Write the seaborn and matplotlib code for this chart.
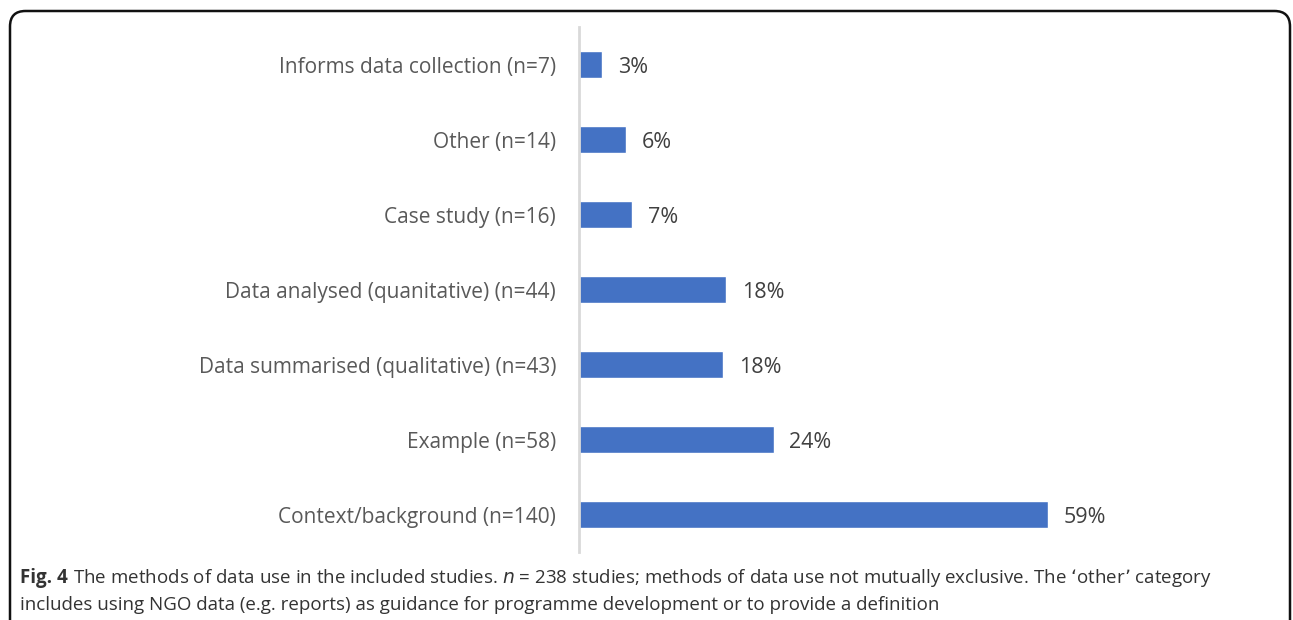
import pandas as pd
import matplotlib.pyplot as plt
import seaborn as sns
from matplotlib.patches import FancyBboxPatch

# categories, top to bottom as shown in the chart
categories = [
    "Informs data collection (n=7)",
    "Other (n=14)",
    "Case study (n=16)",
    "Data analysed (quanitative) (n=44)",
    "Data summarised (qualitative) (n=43)",
    "Example (n=58)",
    "Context/background (n=140)",
]
percent = [2.9, 5.9, 6.7, 18.5, 18.1, 24.4, 58.8]
value_labels = ["3%", "6%", "7%", "18%", "18%", "24%", "59%"]

caption_bold = "Fig. 4"
caption_line1 = ("The methods of data use in the included studies. $\\it{n}$ = 238 studies; "
                 "methods of data use not mutually exclusive. The \u2018other\u2019 category")
caption_line2 = ("includes using NGO data (e.g. reports) as guidance for programme development "
                 "or to provide a definition")

df = pd.DataFrame({"method": categories, "pct": percent})

sns.set_style("white")
plt.rcParams["font.family"] = ["Open Sans", "DejaVu Sans"]

fig = plt.figure(figsize=(12.93, 6.2), dpi=100)
ax = fig.add_axes([579 / 1293, 1 - 552 / 620, 558 / 1293, 525 / 620])

sns.barplot(data=df, y="method", x="pct", order=categories, color="#4472C4",
            width=0.35, saturation=1, ax=ax)

ax.set_ylim(6.5, -0.5)
ax.set_xlim(0, 70)
ax.set_xlabel("")
ax.set_ylabel("")
ax.set_xticks([])
ax.tick_params(axis="y", length=0, pad=16.5, labelsize=15, labelcolor="#595959")
for side in ["top", "right", "bottom"]:
    ax.spines[side].set_visible(False)
ax.spines["left"].set_color("#D9D9D9")
ax.spines["left"].set_linewidth(2)

for i, (v, lab) in enumerate(zip(percent, value_labels)):
    ax.text(v + 2.0, i, lab, va="center_baseline", ha="left", fontsize=15.5, color="#404040")

# rounded frame open at the bottom
frame = FancyBboxPatch((10 / 1293, -0.1), 1280 / 1293, (620 - 11) / 620 + 0.1,
                       boxstyle="round,pad=0,rounding_size=0.012",
                       transform=fig.transFigure, fill=False, edgecolor="#111111",
                       linewidth=1.8, clip_on=False, mutation_aspect=1293 / 620)
fig.add_artist(frame)

t = fig.text(20 / 1293, 1 - 578 / 620, caption_bold, fontsize=13.5, fontweight="bold",
             color="#333333", va="center", ha="left")
fig.canvas.draw()
bb = t.get_window_extent()
fig.text((bb.x1 + 5) / 1293, 1 - 578 / 620, caption_line1, fontsize=13.5, color="#333333",
         va="center", ha="left")
fig.text(20 / 1293, 1 - 605 / 620, caption_line2, fontsize=13.5, color="#333333",
         va="center", ha="left")

fig.savefig("out.png", dpi=100)
